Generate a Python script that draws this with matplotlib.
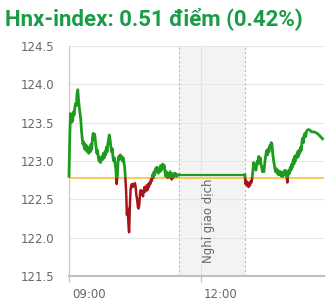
import matplotlib
matplotlib.use("Agg")
import matplotlib.pyplot as plt
from matplotlib.patches import Rectangle
from matplotlib.transforms import ScaledTranslation

title_text = "Hnx-index: 0.51 điểm (0.42%)"
break_label = "Nghỉ giao dịch"
prev_close = 122.78
break_start, break_end = 150, 240   # minutes after 09:00 (11:30 - 13:00)
tick_minutes = [0, 180]
tick_labels = ["09:00", "12:00"]
y_ticks = [121.5, 122.0, 122.5, 123.0, 123.5, 124.0, 124.5]

# minutes after 09:00
morning_min = list(range(0, 151))
morning_val = [
    122.80, 123.30, 123.62, 123.50, 123.58, 123.52, 123.64, 123.60, 123.70, 123.75,
    123.72, 123.88, 123.93, 123.80, 123.70, 123.62, 123.55, 123.40, 123.30, 123.22,
    123.25, 123.16, 123.22, 123.14, 123.20, 123.12, 123.18, 123.10, 123.16, 123.12,
    123.22, 123.15, 123.30, 123.36, 123.28, 123.35, 123.26, 123.18, 123.10, 123.14,
    123.05, 123.00, 123.04, 122.98, 123.02, 123.06, 123.02, 123.10, 123.04, 123.12,
    123.08, 123.18, 123.12, 123.22, 123.28, 123.34, 123.28, 123.20, 123.12, 123.16,
    123.05, 123.00, 123.04, 122.96, 122.88, 122.70, 122.80, 123.00, 123.06, 123.02,
    123.08, 123.04, 123.06, 123.00, 123.04, 122.98, 122.92, 122.76, 122.60, 122.30,
    122.38, 122.20, 122.07, 122.40, 122.62, 122.68, 122.70, 122.66, 122.70, 122.68,
    122.71, 122.66, 122.55, 122.50, 122.40, 122.38, 122.44, 122.58, 122.62, 122.56,
    122.60, 122.54, 122.62, 122.66, 122.60, 122.64, 122.68, 122.62, 122.70, 122.66,
    122.72, 122.70, 122.76, 122.74, 122.82, 122.78, 122.86, 122.82, 122.90, 122.86,
    122.92, 122.88, 122.84, 122.90, 122.86, 122.94, 122.88, 122.92, 122.96, 122.90,
    122.94, 122.86, 122.80, 122.86, 122.82, 122.78, 122.84, 122.80, 122.86, 122.80,
    122.76, 122.82, 122.78, 122.84, 122.80, 122.84, 122.82, 122.80, 122.82, 122.82,
    122.82,
]

afternoon_min = list(range(240, 326)) + [327, 329, 331, 334, 337, 340, 343, 346]
afternoon_val = [
    122.82, 122.70, 122.74, 122.68, 122.72, 122.66, 122.70, 122.68, 122.74, 122.72,
    122.78, 122.88, 122.98, 122.92, 122.96, 122.88, 122.94, 123.00, 122.96, 123.06,
    123.00, 123.04, 122.96, 122.92, 122.86, 122.90, 122.86, 122.96, 123.04, 123.10,
    123.14, 123.08, 123.16, 123.12, 123.20, 123.18, 123.24, 123.22, 123.10, 123.02,
    122.96, 122.90, 122.86, 122.90, 122.84, 122.88, 122.82, 122.86, 122.82, 122.86,
    122.80, 122.84, 122.80, 122.86, 122.82, 122.88, 122.84, 122.80, 122.72, 122.82,
    122.88, 122.84, 122.92, 122.88, 122.96, 122.92, 123.02, 122.96, 123.06, 123.00,
    123.08, 123.04, 123.12, 123.06, 123.14, 123.10, 123.18, 123.14, 123.26, 123.30,
    123.24, 123.34, 123.36, 123.32, 123.38, 123.40,
    123.41, 123.40, 123.38, 123.38, 123.37, 123.35, 123.32, 123.29,
]

times = morning_min + afternoon_min
values = morning_val + afternoon_val
n_morning = len(morning_min)

fig = plt.figure(figsize=(3.27, 3.03), dpi=100)
ax = fig.add_axes([69/327, 1-276/303, 255/327, 230/303])

ax.set_xlim(0, 348)
ax.set_ylim(121.5, 124.5)

# break band
ax.axvspan(break_start, break_end, color="#f3f3f3", zorder=0, lw=0)
for xb in (break_start, break_end):
    ax.axvline(xb, color="#bbbbbb", lw=0.8, ls=(0, (2, 2)), zorder=1)
ax.text((break_start+break_end)/2 - 4, 122.22, break_label, rotation=90,
        ha="center", va="center", color="#666666", fontsize=8.5, zorder=2)

# grids
ax.set_yticks(y_ticks)
ax.set_yticklabels([f"{v:.1f}" for v in y_ticks])
ax.set_xticks(tick_minutes)
ax.set_xticklabels(tick_labels, ha="left")
ax.grid(axis="y", color="#e6e6e6", lw=0.8, zorder=0)
ax.grid(axis="x", color="#e3e3e3", lw=0.8, zorder=0)
ax.set_axisbelow(True)

# reference line
ax.axhline(prev_close, color="#f5c02c", lw=1.1, zorder=3)

# series split at threshold
green_c, red_c = "#1e9a1e", "#a8141c"
g1, = ax.plot(times[:n_morning], values[:n_morning], color=green_c, lw=2.0, zorder=4)
g2, = ax.plot([break_start, break_end], [values[n_morning-1], values[n_morning]], color=green_c, lw=1.6, zorder=4)
g3, = ax.plot(times[n_morning:], values[n_morning:], color=green_c, lw=2.0, zorder=4)
r1, = ax.plot(times[:n_morning], values[:n_morning], color=red_c, lw=1.8, zorder=4)
r2, = ax.plot(times[n_morning:], values[n_morning:], color=red_c, lw=1.8, zorder=4)
up = Rectangle((-10, prev_close), 400, 10, transform=ax.transData)
dn = Rectangle((-10, prev_close - 10), 400, 10, transform=ax.transData)
for ln in (g1, g2, g3):
    ln.set_clip_path(up)
for ln in (r1, r2):
    ln.set_clip_path(dn)

for s in ("top", "right"):
    ax.spines[s].set_visible(False)
ax.spines["left"].set_color("#cccccc")
ax.spines["left"].set_linewidth(0.9)
ax.spines["bottom"].set_color("#c0c0c0")
ax.spines["bottom"].set_linewidth(1.5)

ax.tick_params(axis="y", length=0, pad=10.5, labelsize=8.5, labelcolor="#666666")
ax.tick_params(axis="x", length=4.3, width=0.9, color="#c0c0c0", pad=4,
               labelsize=8.5, labelcolor="#666666")
for lab in ax.get_xticklabels():
    lab.set_transform(lab.get_transform() + ScaledTranslation(3/100, 0, fig.dpi_scale_trans))

fig.text(5/327, 1-25/303, title_text, ha="left", va="baseline",
         fontsize=16, fontweight="bold", color="#1a9b48",
         family=["Roboto", "DejaVu Sans"])

fig.savefig("out.png", dpi=100)
